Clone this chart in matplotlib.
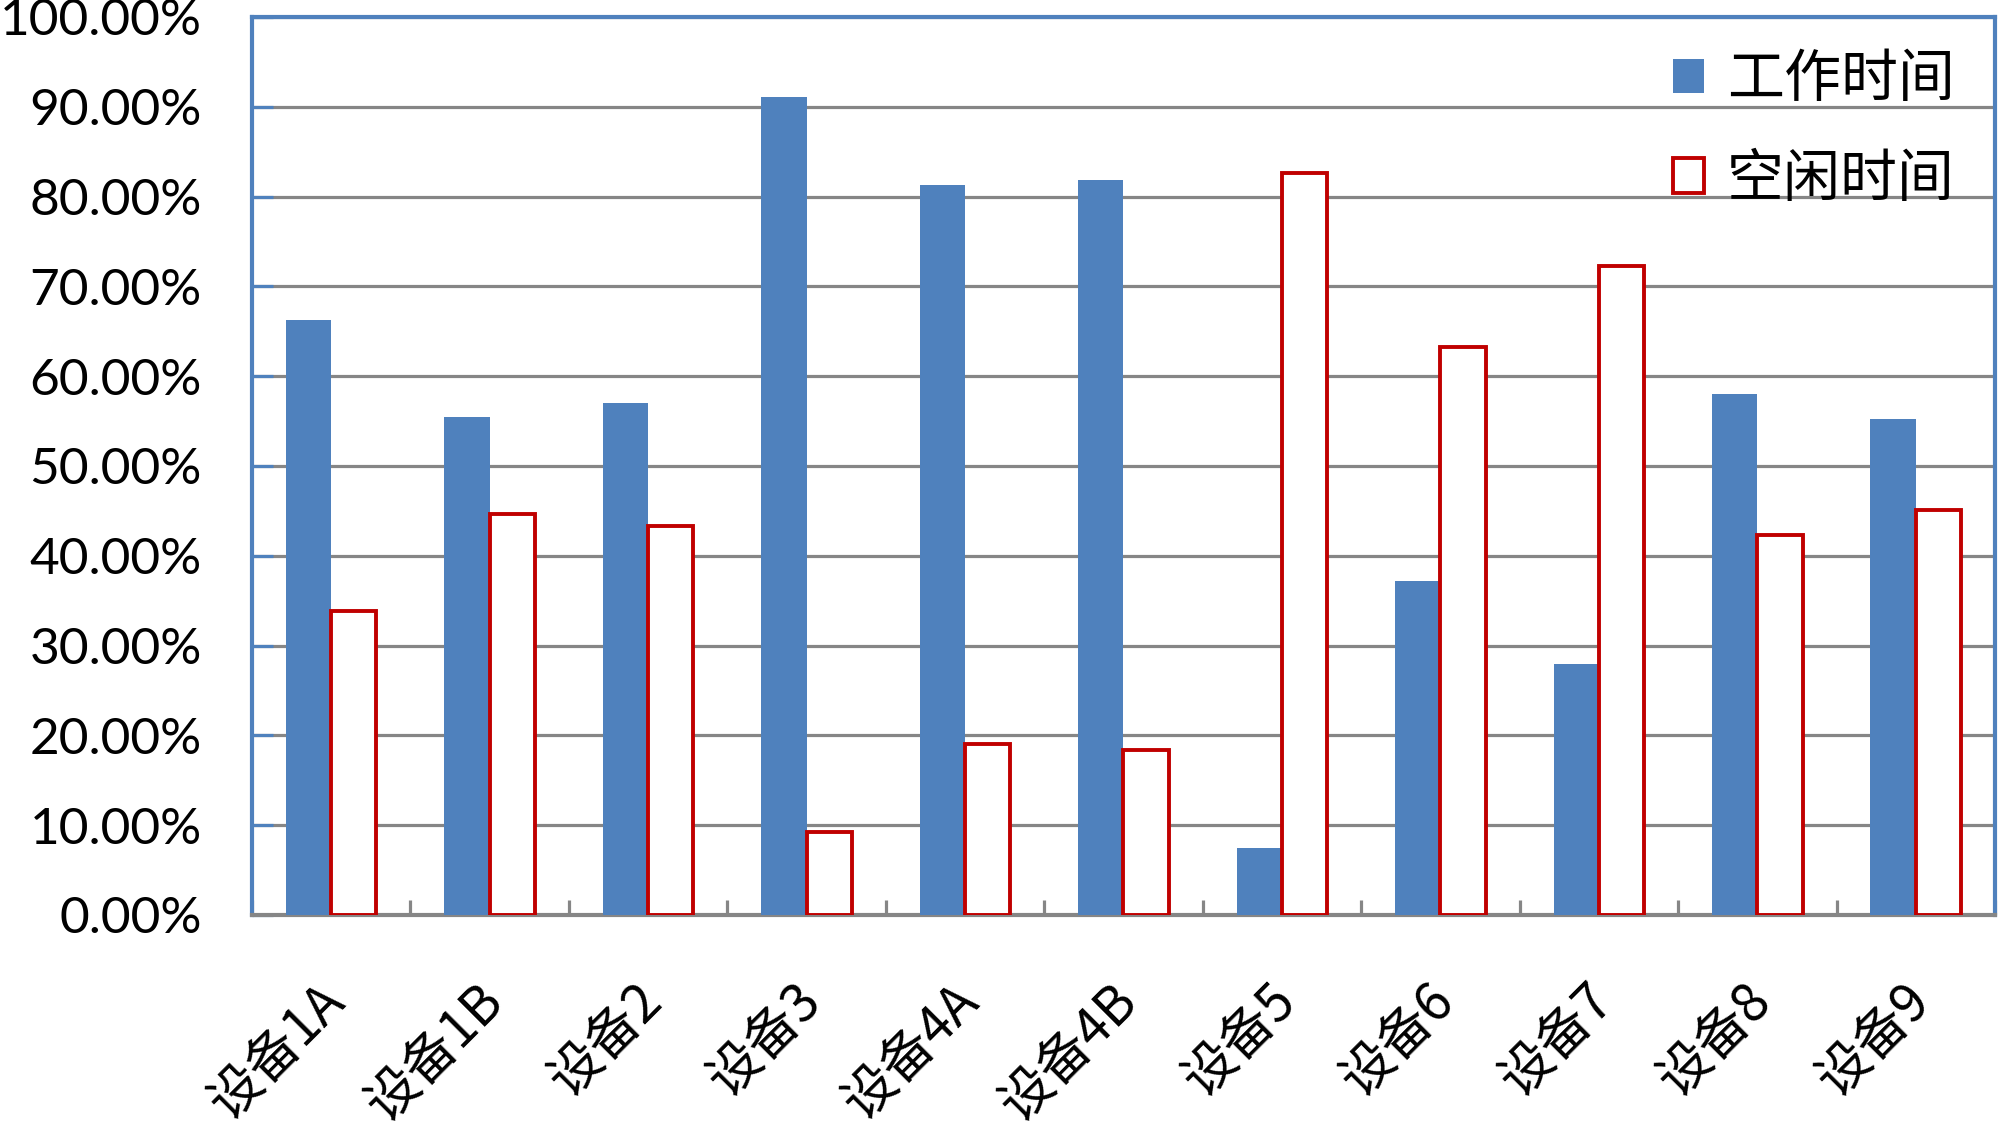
import matplotlib
matplotlib.use("Agg")
import matplotlib.pyplot as plt
import matplotlib.transforms as mtransforms
from matplotlib.patches import Patch
from matplotlib.ticker import FixedLocator, FuncFormatter
import numpy as np

categories = ["设备1A", "设备1B", "设备2", "设备3", "设备4A", "设备4B",
              "设备5", "设备6", "设备7", "设备8", "设备9"]
work_time = [66.2, 55.5, 57.0, 91.1, 81.3, 81.8, 7.5, 37.2, 27.9, 58.0, 55.2]
idle_time = [33.9, 44.7, 43.3, 9.2, 19.0, 18.4, 82.6, 63.2, 72.3, 42.3, 45.1]
series_names = ["工作时间", "空闲时间"]
y_ticks = [0, 10, 20, 30, 40, 50, 60, 70, 80, 90, 100]

BLUE = "#4F81BD"
RED = "#C00000"
GRAY = "#868686"
CJK = ["Noto Sans CJK SC", "DejaVu Sans"]

fig = plt.figure(figsize=(19.99, 11.31), dpi=100)
ax = fig.add_axes([0.126, 0.191, 0.872, 0.794])

x = np.arange(len(categories))
w = 1 / 3.5
ax.bar(x - w / 2, work_time, width=w, color=BLUE, linewidth=0, zorder=3)
ax.bar(x + w / 2, idle_time, width=w, facecolor="white", edgecolor=RED,
       linewidth=2.8, zorder=3)

ax.set_xlim(-0.5, len(categories) - 0.5)
ax.set_ylim(0, 100)

# grid
ax.yaxis.set_major_locator(FixedLocator(y_ticks))
ax.yaxis.grid(True, color=GRAY, linewidth=2.3, zorder=0)
ax.set_axisbelow(True)
ax.yaxis.set_major_formatter(FuncFormatter(lambda v, p: f"{v:.2f}%"))
ax.tick_params(axis="y", direction="in", length=15, width=2.3, color=BLUE,
               pad=36, labelsize=37)
for lab in ax.get_yticklabels():
    lab.set_family(["Lato", "DejaVu Sans"])

# x ticks
ax.set_xticks(x)
ax.set_xticklabels(categories, family=CJK, fontsize=38, rotation=45,
                   ha="right", va="center", rotation_mode="anchor")
ax.tick_params(axis="x", which="major", length=0, pad=56)
ax.set_xticks(np.arange(-0.5, len(categories), 1.0), minor=True)
ax.tick_params(axis="x", which="minor", direction="in", length=11, width=2.3,
               color=GRAY)
off = mtransforms.ScaledTranslation(6 / 100, 0, fig.dpi_scale_trans)
for lab in ax.get_xticklabels():
    lab.set_transform(lab.get_transform() + off)

# spines
for s in ["left", "top", "right"]:
    ax.spines[s].set_color(BLUE)
    ax.spines[s].set_linewidth(3)
ax.spines["bottom"].set_color(GRAY)
ax.spines["bottom"].set_linewidth(3)

handles = [Patch(facecolor=BLUE, edgecolor=BLUE, linewidth=0),
           Patch(facecolor="white", edgecolor=RED, linewidth=2.8)]
leg = ax.legend(handles, series_names, loc="upper right", frameon=False,
                prop={"family": CJK, "size": 41}, handlelength=0.55,
                handleheight=0.55, handletextpad=0.4, labelspacing=0.72,
                borderaxespad=0.0, bbox_to_anchor=(0.99, 0.988))

fig.savefig("out.png", dpi=100)
